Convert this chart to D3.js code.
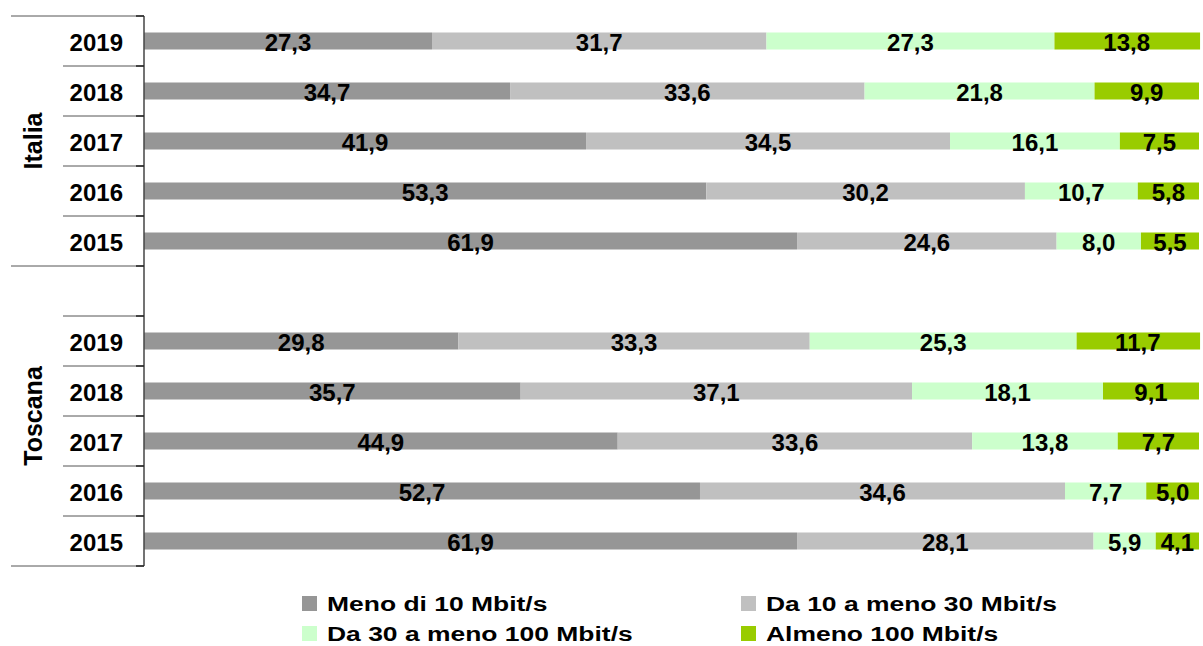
<!DOCTYPE html>
<html>
<head>
<meta charset="utf-8">
<script src="https://cdn.jsdelivr.net/npm/d3@7"></script>
<style>
  html, body { margin: 0; padding: 0; background: #fff; }
  svg { display: block; }
  text { font-family: "Liberation Sans", Arial, Helvetica, sans-serif; font-weight: bold; fill: #000; }
</style>
</head>
<body>
<svg id="chart" width="1203" height="646"></svg>
<script>
// Connection speed classes (stack order, left to right)
const series = ["Meno di 10 Mbit/s", "Da 10 a meno 30 Mbit/s", "Da 30 a meno 100 Mbit/s", "Almeno 100 Mbit/s"];
const colors = ["#969696", "#c0c0c0", "#ccffcc", "#99cc00"];

const groups = ["Italia", "Toscana"];
const years = ["2019", "2018", "2017", "2016", "2015"];

// Shares (%) per year, one array per speed class
const italia = {
  "Meno di 10 Mbit/s":       [27.3, 34.7, 41.9, 53.3, 61.9],
  "Da 10 a meno 30 Mbit/s":  [31.7, 33.6, 34.5, 30.2, 24.6],
  "Da 30 a meno 100 Mbit/s": [27.3, 21.8, 16.1, 10.7, 8.0],
  "Almeno 100 Mbit/s":       [13.8, 9.9, 7.5, 5.8, 5.5]
};
const toscana = {
  "Meno di 10 Mbit/s":       [29.8, 35.7, 44.9, 52.7, 61.9],
  "Da 10 a meno 30 Mbit/s":  [33.3, 37.1, 33.6, 34.6, 28.1],
  "Da 30 a meno 100 Mbit/s": [25.3, 18.1, 13.8, 7.7, 5.9],
  "Almeno 100 Mbit/s":       [11.7, 9.1, 7.7, 5.0, 4.1]
};

const fmt = v => d3.format(".1f")(v).replace(".", ",");

// Build rows: Italia years, an empty spacer slot, then Toscana years
const rows = [];
years.forEach((y, i) => rows.push({ key: "Italia-" + y, group: "Italia", year: y, vals: series.map(s => italia[s][i]) }));
rows.push({ key: "spacer", group: null, year: "", vals: null });
years.forEach((y, i) => rows.push({ key: "Toscana-" + y, group: "Toscana", year: y, vals: series.map(s => toscana[s][i]) }));

const svg = d3.select("#chart");

const axisX = 144;
const plotTop = 16, plotBottom = 566;
const barH = 17;

const x = d3.scaleLinear().domain([0, 100]).range([axisX, 1199]);
const yBand = d3.scaleBand().domain(rows.map(r => r.key)).range([plotTop, plotBottom]).paddingInner(0).paddingOuter(0);
const color = d3.scaleOrdinal().domain(series).range(colors);

// Caption line above the chart, mostly outside the frame
svg.append("text")
  .attr("x", 334).attr("y", -4)
  .attr("text-anchor", "end")
  .style("font-family", "'Liberation Serif', 'Times New Roman', serif")
  .style("font-style", "italic").style("font-weight", "normal")
  .style("font-size", "18px")
  .text("geografica)");

// Stacked bars
const stacked = rows.filter(r => r.vals).map(r => {
  let acc = 0;
  return { row: r, segs: r.vals.map((v, i) => { const s = { name: series[i], v, x0: acc, x1: acc + v }; acc += v; return s; }) };
});

const rowG = svg.append("g").selectAll("g").data(stacked).join("g")
  .attr("transform", d => `translate(0,${yBand(d.row.key) + (yBand.bandwidth() - barH) / 2})`);

rowG.selectAll("rect").data(d => d.segs).join("rect")
  .attr("x", d => x(d.x0))
  .attr("width", d => x(d.x1) - x(d.x0))
  .attr("y", 0)
  .attr("height", barH)
  .attr("fill", d => color(d.name));

rowG.selectAll("text.val").data(d => d.segs).join("text")
  .attr("class", "val")
  .attr("x", d => (x(d.x0) + x(Math.min(d.x1, 100))) / 2)
  .attr("y", barH / 2 + 1)
  .attr("text-anchor", "middle")
  .attr("dominant-baseline", "central")
  .style("font-size", "24px")
  .text(d => fmt(d.v));

// Category axis: vertical line, row ticks and group separators
const axisG = svg.append("g");
axisG.append("line")
  .attr("x1", axisX).attr("x2", axisX).attr("y1", plotTop).attr("y2", plotBottom)
  .attr("stroke", "#444").attr("stroke-width", 1.5);

const boundaries = d3.range(rows.length + 1).map(i => plotTop + i * yBand.step());
const groupEdges = [0, years.length, rows.length];
axisG.selectAll("line.tick").data(boundaries).join("line")
  .attr("class", "tick")
  .attr("x1", (d, i) => groupEdges.includes(i) ? 11 : 63)
  .attr("x2", axisX)
  .attr("y1", d => d).attr("y2", d => d)
  .attr("stroke", "#555").attr("stroke-width", 1);
axisG.selectAll("line.mark").data(boundaries).join("line")
  .attr("class", "mark")
  .attr("x1", axisX - 8).attr("x2", axisX)
  .attr("y1", d => d).attr("y2", d => d)
  .attr("stroke", "#222").attr("stroke-width", 1.5);

// Year labels
axisG.selectAll("text.year").data(rows.filter(r => r.vals)).join("text")
  .attr("class", "year")
  .attr("x", 123)
  .attr("y", r => yBand(r.key) + yBand.bandwidth() / 2 + 1)
  .attr("text-anchor", "end")
  .attr("dominant-baseline", "central")
  .style("font-size", "24px")
  .text(r => r.year);

// Group labels (rotated), centred between group separators
const groupCenters = [
  { name: groups[0], y: (boundaries[0] + boundaries[years.length]) / 2 },
  { name: groups[1], y: (boundaries[years.length] + boundaries[rows.length]) / 2 }
];
axisG.selectAll("text.group").data(groupCenters).join("text")
  .attr("class", "group")
  .attr("transform", d => `translate(33,${d.y}) rotate(-90)`)
  .attr("text-anchor", "middle")
  .attr("dominant-baseline", "central")
  .style("font-size", "25px")
  .text(d => d.name);

// Legend, two columns by two rows
const legendCols = [302, 741];
const legendRows = [604, 634];
const legend = svg.append("g").selectAll("g").data(series).join("g")
  .attr("transform", (d, i) => `translate(${legendCols[i % 2]},${legendRows[Math.floor(i / 2)]})`);
legend.append("rect")
  .attr("x", 0).attr("y", -8).attr("width", 15).attr("height", 15)
  .attr("fill", d => color(d));
legend.append("text")
  .attr("transform", "translate(25,0) scale(1.26,1)")
  .attr("dominant-baseline", "central")
  .style("font-size", "21px")
  .text(d => d);
</script>
</body>
</html>
